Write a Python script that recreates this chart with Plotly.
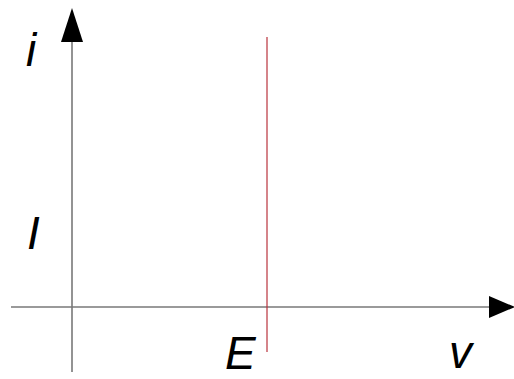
import plotly.graph_objects as go

# i-v characteristic of an ideal voltage source: v = E for any current i
E = 195.0            # source voltage (position on the v axis)
I_level = 74.0       # marked current level
i_span = [-45.0, 270.0]  # current range drawn for the characteristic

# axis extents (v, i units)
v_min, v_max = -61.0, 417.0
i_min, i_max = -65.0, 265.0
head_len_v, head_len_i = 26.0, 34.0
head_half = 11.0

x_range = [-72, 442]
y_range = [-72, 307]

fig = go.Figure()

axis_col = "rgb(120,120,120)"

# axes
fig.add_trace(go.Scatter(x=[v_min, v_max], y=[0, 0], mode="lines",
                         line=dict(color=axis_col, width=1.6), hoverinfo="skip"))
fig.add_trace(go.Scatter(x=[0, 0], y=[i_min, i_max], mode="lines",
                         line=dict(color=axis_col, width=1.6), hoverinfo="skip"))

# arrow heads
fig.add_trace(go.Scatter(x=[v_max, v_max + head_len_v, v_max, v_max],
                         y=[head_half, 0, -head_half, head_half],
                         mode="lines", fill="toself", fillcolor="black",
                         line=dict(width=0, color="black"), hoverinfo="skip"))
fig.add_trace(go.Scatter(x=[-head_half, 0, head_half, -head_half],
                         y=[i_max, i_max + head_len_i, i_max, i_max],
                         mode="lines", fill="toself", fillcolor="black",
                         line=dict(width=0, color="black"), hoverinfo="skip"))

# characteristic
fig.add_trace(go.Scatter(x=[E, E], y=i_span, mode="lines",
                         line=dict(color="rgb(185,50,60)", width=1.2), hoverinfo="skip"))

font = dict(family="Liberation Sans, Arial, sans-serif", size=46, color="black")
labels = [
    ("<i>i</i>", -40, 257),
    ("<i>I</i>", -39, I_level),
    ("<i>E</i>", E - 26, -46),
    ("<i>v</i>", 390, -45),
]
for txt, x, y in labels:
    fig.add_annotation(x=x, y=y, text=txt, showarrow=False, font=font,
                       xanchor="center", yanchor="middle")

fig.update_layout(
    width=514, height=379,
    margin=dict(l=0, r=0, t=0, b=0),
    paper_bgcolor="white", plot_bgcolor="white",
    showlegend=False,
    xaxis=dict(range=x_range, visible=False, fixedrange=True),
    yaxis=dict(range=y_range, visible=False, fixedrange=True),
)

fig.write_html("out.html")
